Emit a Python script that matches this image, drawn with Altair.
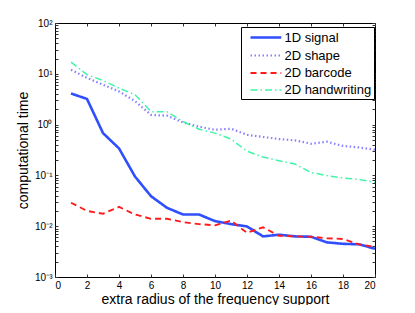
import altair as alt
import pandas as pd

x_vals = list(range(1, 21))
series_names = ["1D signal", "2D shape", "2D barcode", "2D handwriting"]
signal_1d = [4.1, 3.2, 0.68, 0.34, 0.095, 0.039, 0.023, 0.017, 0.017, 0.0126,
             0.011, 0.0099, 0.0063, 0.0068, 0.0063, 0.0062, 0.0048, 0.0045, 0.0044, 0.0036]
shape_2d = [12, 8.3, 6.1, 4.5, 2.9, 1.55, 1.5, 1.1, 0.91, 0.79,
            0.83, 0.63, 0.57, 0.52, 0.49, 0.42, 0.46, 0.38, 0.355, 0.32]
barcode_2d = [0.029, 0.020, 0.0176, 0.024, 0.017, 0.014, 0.014, 0.012, 0.011, 0.0104,
              0.0129, 0.0074, 0.0095, 0.0065, 0.0063, 0.0062, 0.0058, 0.0056, 0.0044, 0.0039]
handwriting_2d = [17, 9.6, 7.4, 5.2, 3.9, 1.8, 1.8, 1.15, 0.81, 0.68,
                  0.52, 0.30, 0.23, 0.195, 0.167, 0.114, 0.099, 0.089, 0.083, 0.073]
colors = ["#2f4fff", "#8a80ff", "#ff1a1a", "#40f5a8"]
dashes = [[1, 0], [1.5, 2.5], [6, 4], [7, 3, 1.5, 3]]
x_ticks = list(range(0, 21, 2))
y_ticks = [m * 10.0 ** k for k in range(-3, 2) for m in range(1, 10)] + [100.0]

rows = []
for name, vals in zip(series_names, [signal_1d, shape_2d, barcode_2d, handwriting_2d]):
    for xv, yv in zip(x_vals, vals):
        rows.append({"x": xv, "y": yv, "series": name})
df = pd.DataFrame(rows)

label_expr = ("datum.value==100?'10²':datum.value==10?'10¹':datum.value==1?'10⁰':"
              "abs(datum.value-0.1)<1e-9?'10⁻¹':abs(datum.value-0.01)<1e-10?'10⁻²':"
              "abs(datum.value-0.001)<1e-11?'10⁻³':''")

xs = alt.Scale(domain=[0, 20], nice=False)
ys = alt.Scale(type="log", domain=[0.001, 100], nice=False)

base = alt.Chart(df)

legend_cfg = dict(title=None, orient="none", legendX=186, legendY=4,
                  fillColor="white", strokeColor="black",
                  padding=2, symbolType="M-2.2,0H2.2", symbolSize=196,
                  symbolStrokeWidth=2, labelFontSize=13,
                  labelFont="Liberation Sans", rowPadding=2,
                  symbolOffset=14.4, labelOffset=10, cornerRadius=0)

lines = base.mark_line(clip=True).encode(
    x=alt.X("x:Q", scale=xs,
            axis=alt.Axis(values=x_ticks, title="extra radius of the frequency support",
                          domain=False, offset=-3, tickSize=3, labelPadding=3,
                          grid=False, titlePadding=2)),
    y=alt.Y("y:Q", scale=ys,
            axis=alt.Axis(values=y_ticks, labelExpr=label_expr, title="computational time",
                          domain=False, offset=-3, tickSize=3, labelPadding=3,
                          grid=False, titlePadding=4)),
    color=alt.Color("series:N", scale=alt.Scale(domain=series_names, range=colors),
                    legend=alt.Legend(**legend_cfg)),
    strokeDash=alt.StrokeDash("series:N", scale=alt.Scale(domain=series_names, range=dashes),
                              legend=alt.Legend(**legend_cfg)),
    strokeWidth=alt.StrokeWidth("series:N", scale=alt.Scale(domain=series_names, range=[2.6, 1.5, 2.6, 2]),
                                legend=None),
)

frame = base.mark_line(opacity=0).encode(
    x=alt.X("x:Q", scale=xs,
            axis=alt.Axis(values=x_ticks, orient="top", labels=False, title=None,
                          domain=False, offset=-3, tickSize=3, grid=False)),
    y=alt.Y("y:Q", scale=ys,
            axis=alt.Axis(values=y_ticks, orient="right", labels=False, title=None,
                          domain=False, offset=-3, tickSize=3, grid=False)),
)

chart = alt.layer(lines, frame).resolve_axis(x="independent", y="independent").properties(
    width=320, height=254, autosize="none",
    padding={"left": 47, "top": 15, "right": 32, "bottom": 28},
).configure_view(stroke="black", strokeWidth=1).configure_axis(
    labelFont="Liberation Sans", titleFont="Liberation Sans", labelFontSize=10,
    titleFontSize=14, titleFontWeight="normal", tickColor="#333", labelColor="black",
    titleColor="black"
)

chart.save("out.html", embed_options={"renderer": "svg", "actions": False})
